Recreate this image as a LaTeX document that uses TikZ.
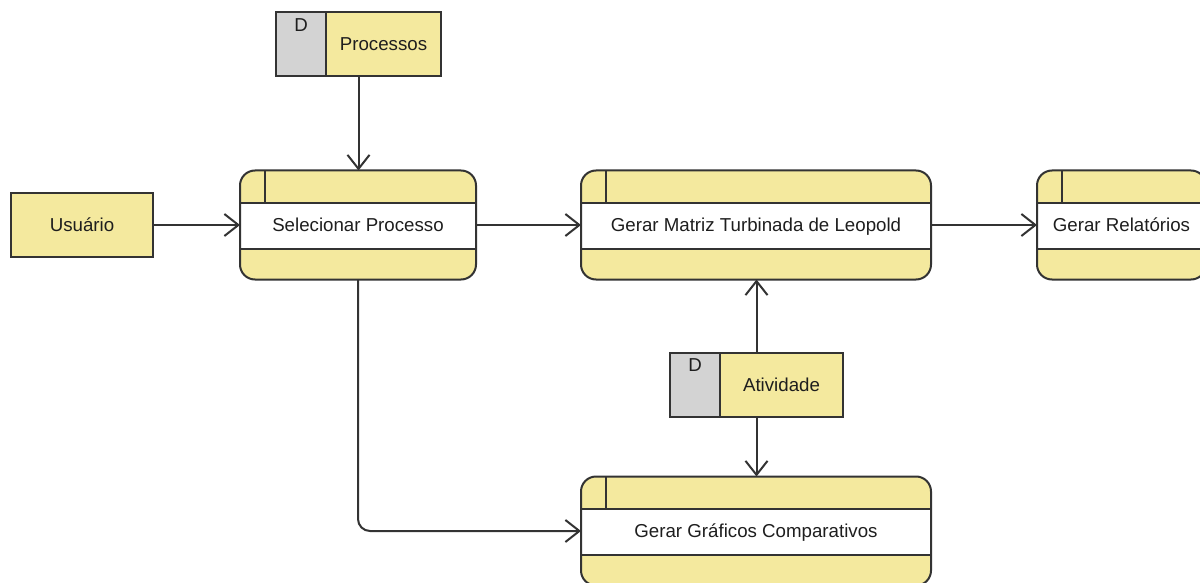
\documentclass[tikz,border=0pt]{standalone}
\usepackage{fontspec}
\setmainfont{Liberation Sans}
\usetikzlibrary{arrows.meta,backgrounds}
\definecolor{yel}{HTML}{F4E99E}
\definecolor{grayd}{HTML}{D3D3D3}
\definecolor{linec}{HTML}{333333}
\definecolor{txt}{HTML}{1E1E1E}
\tikzset{
  lbl/.style={font=\fontsize{18.7}{22}\selectfont, text=txt, text height=16pt, text depth=2.6pt, inner sep=0pt},
  procbox/.style={rectangle, minimum height=109pt, outer sep=0pt, lbl},
  boxline/.style={draw=linec, line width=2pt},
  entbox/.style={rectangle, boxline, fill=yel, minimum height=64pt, lbl},
  storebox/.style={rectangle, boxline, fill=yel, minimum height=64pt,
    path picture={
      \fill[grayd] (path picture bounding box.north west) rectangle ([xshift=50pt]path picture bounding box.south west);
      \draw[linec, line width=2pt] ([xshift=50pt]path picture bounding box.north west) -- ([xshift=50pt]path picture bounding box.south west);
    },
    postaction={draw=linec, line width=2pt}},
  flow/.style={draw=linec, line width=2pt, -{Straight Barb[length=14pt,width=22pt]}}
}
\newcommand{\procdeco}[1]{%
  \begin{pgfonlayer}{background}
    \fill[yel, rounded corners=15pt] (#1.north west) rectangle (#1.south east);
    \begin{scope}
      \clip[rounded corners=15pt] (#1.north west) rectangle (#1.south east);
      \fill[white] ([yshift=-32pt]#1.north west) rectangle ([yshift=31pt]#1.south east);
      \draw[boxline] ([yshift=-32pt]#1.north west) -- ([yshift=-32pt]#1.north east);
      \draw[boxline] ([yshift=31pt]#1.south west) -- ([yshift=31pt]#1.south east);
      \draw[boxline] ([xshift=25pt]#1.north west) -- ([xshift=25pt,yshift=-32pt]#1.north west);
    \end{scope}
    \draw[boxline, rounded corners=15pt] (#1.north west) rectangle (#1.south east);
  \end{pgfonlayer}}
\begin{document}
\begin{tikzpicture}[x=1pt,y=-1pt]
\begin{pgfonlayer}{background}
\fill[white] (0,0) rectangle (1200,583);
\end{pgfonlayer}
\useasboundingbox (0,0) rectangle (1200,583);

% external entity
\node[entbox, minimum width=142pt] (usr) at (82,225) {Usuário};

% processes
\node[procbox, minimum width=236pt] (sel) at (358,225) {Selecionar Processo};
\node[procbox, minimum width=350pt] (gm) at (756,225) {Gerar Matriz Turbinada de Leopold};
\node[procbox, minimum width=169pt] (gr) at (1121.5,225) {Gerar Relatórios};
\node[procbox, minimum width=350pt] (gg) at (756,531) {Gerar Gráficos Comparativos};
\procdeco{sel}\procdeco{gm}\procdeco{gr}\procdeco{gg}

% data stores
\node[storebox, minimum width=165pt] (ps) at (358.5,44) {};
\node[lbl] (psD) at (301,25) {D};
\node[lbl] (psT) at (383.5,44) {Processos};

\node[storebox, minimum width=173pt] (at) at (756.5,384.5) {};
\node[lbl] (atD) at (695,365) {D};
\node[lbl] (atT) at (781.5,385) {Atividade};

% flows
\draw[flow] (usr.east) -- (sel.west);
\draw[flow] (ps.south) -- (ps.south |- sel.north);
\draw[flow] (sel.east) -- (gm.west);
\draw[flow] (gm.east) -- (gr.west);
\draw[flow] (at.north) -- (at.north |- gm.south);
\draw[flow] (at.south) -- (at.south |- gg.north);
\draw[flow, rounded corners=12pt] (sel.south) |- (gg.west);
\end{tikzpicture}
\end{document}
